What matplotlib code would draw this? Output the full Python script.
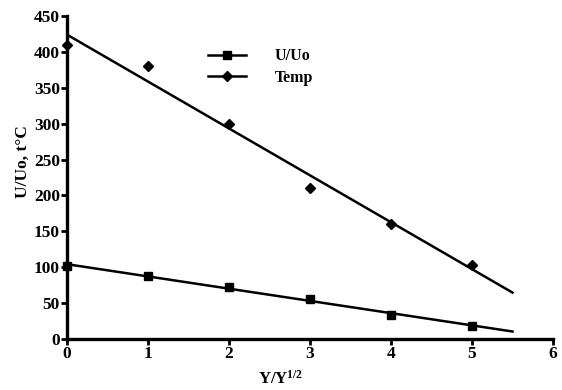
import matplotlib
matplotlib.use('Agg')
import matplotlib.pyplot as plt
import numpy as np

plt.rcParams['font.family'] = 'Liberation Serif'
plt.rcParams['font.weight'] = 'bold'
plt.rcParams['axes.labelweight'] = 'bold'
plt.rcParams['mathtext.fontset'] = 'custom'
plt.rcParams['mathtext.rm'] = 'Liberation Serif:bold'
plt.rcParams['mathtext.it'] = 'Liberation Serif:bold'
plt.rcParams['mathtext.bf'] = 'Liberation Serif:bold'

# data
x = [0, 1, 2, 3, 4, 5]
u_uo = [101, 88, 73, 56, 33, 18]
temp = [410, 381, 300, 210, 160, 103]

fig = plt.figure(figsize=(5.62, 3.90), dpi=100)
ax = fig.add_axes([0.119, 0.131, 0.865, 0.828])

# linear fits, drawn 0..5.5
xf = np.array([0, 5.5])
pu = np.poly1d(np.polyfit(x, u_uo, 1))
pt = np.poly1d(np.polyfit(x, temp, 1))

ax.plot(xf, pu(xf), color='black', lw=1.8)
ax.plot(xf, pt(xf), color='black', lw=1.8)
ax.plot(x, u_uo, 's', color='black', ms=6, clip_on=False)
ax.plot(x, temp, 'D', color='black', ms=5.2, clip_on=False)

# legend handles
ax.plot([], [], '-s', color='black', lw=1.8, ms=6, label='U/Uo')
ax.plot([], [], '-D', color='black', lw=1.8, ms=5.2, label='Temp')
ax.legend(loc='upper left', bbox_to_anchor=(0.26, 0.945), frameon=False,
          fontsize=11.5, handlelength=2.4, handletextpad=1.8, labelspacing=0.35)

ax.set_xlim(0, 6)
ax.set_ylim(0, 450)
ax.set_xticks(range(0, 7))
ax.set_yticks(range(0, 451, 50))
for s in ['top', 'right']:
    ax.spines[s].set_visible(False)
for s in ['left', 'bottom']:
    ax.spines[s].set_linewidth(2.4)
ax.tick_params(width=2, length=4, labelsize=12.5, pad=1)
ax.set_xlabel('Y/Y$^{1/2}$', fontsize=12)
ax.xaxis.set_label_coords(0.44, -0.095)
ax.set_ylabel('U/Uo, t°C', fontsize=12.5)
ax.yaxis.set_label_coords(-0.075, 0.55)

plt.savefig('out.png', dpi=100)
